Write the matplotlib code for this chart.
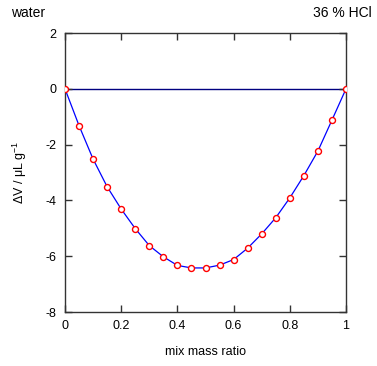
import numpy as np
import matplotlib
matplotlib.use("Agg")
import matplotlib.pyplot as plt

plt.rcParams["font.family"] = ["Liberation Sans", "DejaVu Sans"]
plt.rcParams["axes.unicode_minus"] = False
plt.rcParams["mathtext.fontset"] = "custom"
plt.rcParams["mathtext.rm"] = "Liberation Sans"
plt.rcParams["mathtext.it"] = "Liberation Sans"

# mass fraction of 36 % HCl in the mix
ratio = [0.0, 0.05, 0.1, 0.15, 0.2, 0.25, 0.3, 0.35, 0.4, 0.45, 0.5,
         0.55, 0.6, 0.65, 0.7, 0.75, 0.8, 0.85, 0.9, 0.95, 1.0]
# volume change, uL/g
dv = [0.0, -1.32, -2.52, -3.51, -4.31, -5.01, -5.62, -6.02, -6.33, -6.42, -6.42,
      -6.32, -6.12, -5.71, -5.20, -4.62, -3.91, -3.11, -2.23, -1.12, 0.0]

fig = plt.figure(figsize=(3.77, 3.66), dpi=100)
ax = fig.add_axes([0.1724, 0.1475, 0.7454, 0.7623])

ax.axhline(0, color="#000080", lw=1, zorder=1)
ax.plot(ratio, dv, color="#0000ff", lw=0.9, zorder=2)
ax.plot(ratio, dv, ls="none", marker="o", ms=4.3, mfc="white", mec="red", mew=1, zorder=3)

ax.set_xlim(0, 1)
ax.set_ylim(-8, 2)
ax.set_xticks([0, 0.2, 0.4, 0.6, 0.8, 1])
ax.set_xticklabels(["0", "0.2", "0.4", "0.6", "0.8", "1"])
ax.set_yticks([-8, -6, -4, -2, 0, 2])
ax.tick_params(direction="in", top=True, right=True, length=5, width=1,
               color="#333333", labelsize=9, pad=6)
for s in ax.spines.values():
    s.set_color("#333333")
    s.set_linewidth(1)

ax.set_xlabel("mix mass ratio", fontsize=9, labelpad=10)
ax.set_ylabel(r"$\Delta$V / $\mu$L g$^{\mathrm{-1}}$", fontsize=9, labelpad=12)

fig.text(11 / 377, 1 - 13 / 366, "water", fontsize=10, va="center", ha="left")
fig.text(372 / 377, 1 - 13 / 366, "36 % HCl", fontsize=10, va="center", ha="right")

fig.savefig("out.png", dpi=100)
